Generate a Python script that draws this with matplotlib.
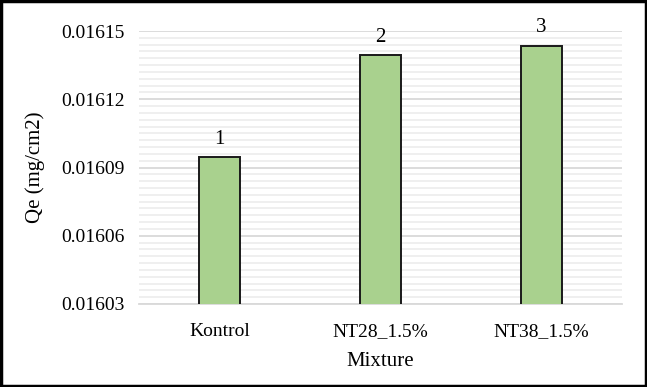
import numpy as np
import matplotlib.pyplot as plt
from matplotlib.ticker import FormatStrFormatter

# data
mixtures = ["Kontrol", "NT28_1.5%", "NT38_1.5%"]
qe = [0.0160946, 0.0161395, 0.0161435]
bar_labels = ["1", "2", "3"]
y_major = [0.01603, 0.01606, 0.01609, 0.01612, 0.01615]

plt.rcParams["font.family"] = ["Liberation Serif", "DejaVu Serif"]

fig = plt.figure(figsize=(6.47, 3.87), dpi=100)
ax = fig.add_axes([139 / 647, 1 - 304 / 387, 483 / 647, 273 / 387])

x = np.arange(len(mixtures))
ax.bar(x, qe, width=0.255, color="#a9d18e", edgecolor="#1a1a1a", linewidth=1.4, zorder=3)
for xi, v, lab in zip(x, qe, bar_labels):
    ax.annotate(lab, (xi, v), xytext=(0, 6), textcoords="offset points",
                ha="center", va="bottom", fontsize=15)

ax.set_xlim(-0.5, 2.5)
ax.set_ylim(y_major[0], y_major[-1])
ax.set_yticks(y_major)
minor = np.linspace(y_major[0], y_major[-1], 41)
ax.set_yticks(minor, minor=True)
ax.yaxis.set_major_formatter(FormatStrFormatter("%.5f"))
ax.grid(axis="y", which="major", color="#d9d9d9", linewidth=1.3, zorder=0)
ax.grid(axis="y", which="minor", color="#ececec", linewidth=1.2, zorder=0)

ax.set_xticks(x)
ax.set_xticklabels(mixtures)
ax.tick_params(axis="both", which="both", length=0, labelsize=14)
ax.tick_params(axis="x", pad=14)
ax.tick_params(axis="y", pad=10)

for s in ["top", "right", "left"]:
    ax.spines[s].set_visible(False)
ax.spines["bottom"].set_color("#d9d9d9")
ax.spines["bottom"].set_linewidth(1.3)

ax.set_xlabel("Mixture", fontsize=15, labelpad=8)
ax.set_ylabel("Qe (mg/cm2)", fontsize=15, labelpad=12)

# border round the figure
fig.patches.append(plt.Rectangle((0.002, 0.003), 0.996, 0.994, transform=fig.transFigure,
                                 fill=False, edgecolor="black", linewidth=2.5))

fig.savefig("out.png", dpi=100)
